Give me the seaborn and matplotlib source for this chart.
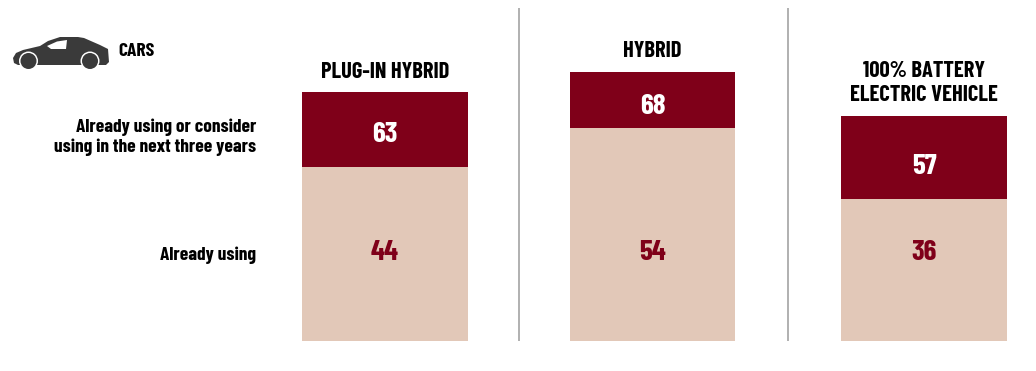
# Stacked share bars for the three car powertrain types
import logging
import matplotlib
matplotlib.use("Agg")
import matplotlib.pyplot as plt
from matplotlib.patches import Circle, Polygon
import pandas as pd
import seaborn as sns

logging.getLogger("matplotlib.font_manager").setLevel(logging.ERROR)

categories = ["PLUG-IN HYBRID", "HYBRID", "100% BATTERY\nELECTRIC VEHICLE"]
consider_values = [63, 68, 57]
using_values = [44, 54, 36]
row_labels = ["Already using or consider\nusing in the next three years", "Already using"]

W, H = 1036, 371
DARK = "#7f0019"
LIGHT = "#e2c8b8"
ICON = "#3a3a3a"
UNITS_PX = 3.95
BASE_Y = 341

sns.set_theme(style="white")
plt.rcParams["font.family"] = ["Barlow Condensed", "Roboto Condensed", "Liberation Sans Narrow", "Roboto", "DejaVu Sans"]

df = pd.DataFrame({"category": categories, "consider": consider_values, "using": using_values})

fig = plt.figure(figsize=(W / 100, H / 100), dpi=100, facecolor="white")

# bar boxes in pixels: left, right, and where the upper label sits
boxes = [(302, 468, 134), (570, 735, 106), (841, 1007, 166)]
title_y = [72, 51, 83]

for (_, row), (x0, x1, label_y), ty in zip(df.iterrows(), boxes, title_y):
    ax = fig.add_axes([x0 / W, (H - BASE_Y) / H, (x1 - x0) / W, 320 / H])
    one = row.to_frame().T
    sns.barplot(data=one, x="category", y="consider", color=DARK, width=1, saturation=1, linewidth=0, ax=ax)
    sns.barplot(data=one, x="category", y="using", color=LIGHT, width=1, saturation=1, linewidth=0, ax=ax)
    ax.set_xlim(-0.5, 0.5)
    ax.set_ylim(0, 320 / UNITS_PX)
    ax.axis("off")
    cx = (x0 + x1) / 2 / W
    fig.text(cx, 1 - label_y / H, str(row["consider"]), color="white", ha="center", va="center",
             fontsize=21, fontweight="bold")
    fig.text(cx, 1 - 253 / H, str(row["using"]), color=DARK, ha="center", va="center",
             fontsize=21, fontweight="bold")
    fig.text(cx, 1 - ty / H, row["category"], color="black", ha="center", va="center",
             fontsize=16.2, fontweight="bold", linespacing=1.2)

# row labels on the left
fig.text(256 / W, 1 - 137 / H, row_labels[0], color="black", ha="right", va="center",
         fontsize=14, fontweight="bold", linespacing=1.2)
fig.text(256 / W, 1 - 255 / H, row_labels[1], color="black", ha="right", va="center",
         fontsize=14, fontweight="bold")
fig.text(118 / W, 1 - 51 / H, "CARS", color="black", ha="left", va="center",
         fontsize=14, fontweight="bold")

# overlay in pixel coordinates for dividers and the car icon
over = fig.add_axes([0, 0, 1, 1], facecolor="none")
over.set_xlim(0, W)
over.set_ylim(H, 0)
over.axis("off")
for x in [519, 788]:
    over.plot([x, x], [8, 341], color="#a3a3a3", lw=1.2, solid_capstyle="butt")

body = [(13, 58), (14, 63), (18, 65), (106, 65), (109, 62), (108, 49), (100, 45), (84, 38), (78, 37),
        (60, 37), (48, 41), (40, 46), (23, 50), (16, 53)]
over.add_patch(Polygon(body, closed=True, facecolor=ICON, lw=0, zorder=3))
over.add_patch(Polygon([(47, 46), (57, 41.5), (67, 40), (66, 49), (51, 49)], closed=True, facecolor="white", lw=0, zorder=4))
for wx in [28.5, 90]:
    over.add_patch(Circle((wx, 61), 9.5, facecolor="white", lw=0, zorder=4))
    over.add_patch(Circle((wx, 61), 8, facecolor=ICON, lw=0, zorder=5))

fig.savefig("out.png", dpi=100, facecolor="white")
